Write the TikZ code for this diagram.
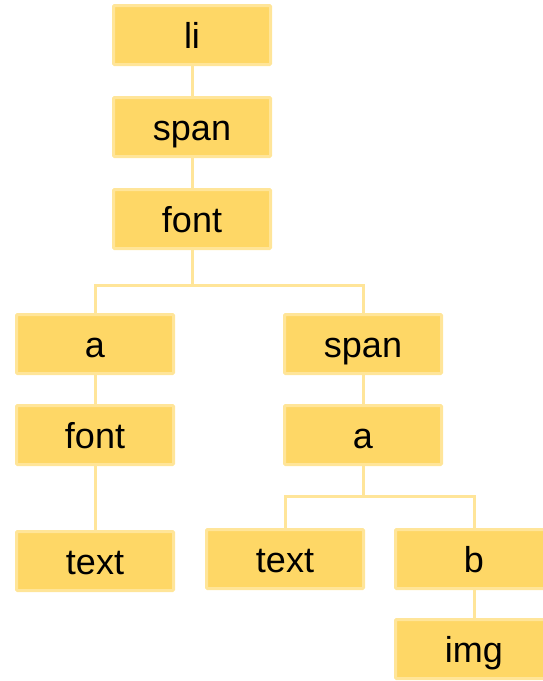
\documentclass[tikz,border=0pt]{standalone}
\usepackage{fontspec}
\setmainfont{Liberation Sans}
\usetikzlibrary{positioning}
\definecolor{tagfill}{RGB}{254,215,102}
\definecolor{tagline}{RGB}{255,229,153}
\begin{document}
\begin{tikzpicture}[x=1pt, y=-1pt,
  tag/.style={draw=tagline, fill=tagfill, line width=3pt, rounded corners=1pt,
    minimum width=157pt, minimum height=59pt, inner sep=0pt,
    text height=32pt, text depth=6pt,
    font=\fontsize{36}{40}\selectfont},
  link/.style={tagline, line width=3pt}]
\useasboundingbox (0,0) rectangle (542,681);
% Left trunk
\node[tag] (li) at (192,35) {li};
\node[tag] (span) at (192,127) {span};
\node[tag] (font) at (192,219) {font};
\draw[link] (li) -- (span);
\draw[link] (span) -- (font);
\coordinate (fork) at (192,285);
\draw[link] (font) -- (fork);
% Left branch
\node[tag] (a) at (95,344) {a};
\node[tag] (fontb) at (95,435) {font};
\node[tag] (texta) at (95,561) {text};
\draw[link] (fork) -| (a);
\draw[link] (a) -- (fontb);
\draw[link] (fontb) -- (texta);
% Right branch
\node[tag] (spanb) at (363,344) {span};
\node[tag] (ab) at (363,435) {a};
\draw[link] (fork) -| (spanb);
\draw[link] (spanb) -- (ab);
\coordinate (forkb) at (363,496);
\draw[link] (ab) -- (forkb);
\node[tag] (textb) at (285,559) {text};
\node[tag] (b) at (474,559) {b};
\node[tag] (img) at (474,649) {img};
\draw[link] (forkb) -| (textb);
\draw[link] (forkb) -| (b);
\draw[link] (b) -- (img);
\end{tikzpicture}
\end{document}
